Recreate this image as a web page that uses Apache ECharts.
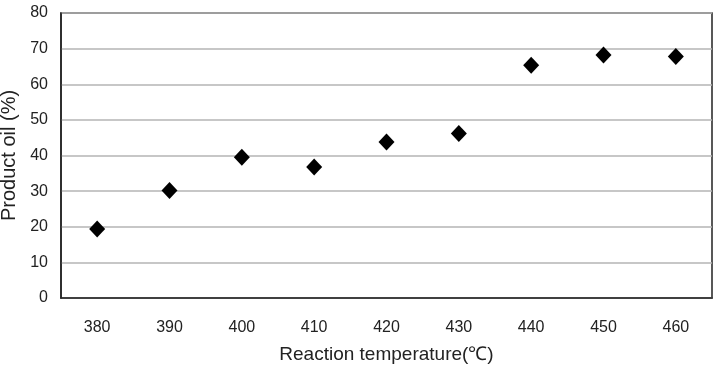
<!DOCTYPE html>
<html>
<head>
<meta charset="utf-8">
<script src="https://cdn.jsdelivr.net/npm/echarts@6/dist/echarts.min.js"></script>
<style>
  html, body { margin: 0; padding: 0; background: #fff; }
  #chart { width: 720px; height: 366px; }
</style>
</head>
<body>
<div id="chart"></div>
<script>
// reaction temperature (°C) categories
const temps = ['380', '390', '400', '410', '420', '430', '440', '450', '460'];
// product oil yield (%)
const productOil = [19.4, 30.2, 39.5, 36.8, 43.8, 46.2, 65.3, 68.2, 67.8];
const yTicks = { min: 0, max: 80, step: 10 };

const chart = echarts.init(document.getElementById('chart'));
const font = 'Liberation Sans, Arial, sans-serif';

chart.setOption({
  animation: false,
  backgroundColor: '#fff',
  grid: {
    left: 61, right: 8, top: 13, bottom: 68,
    outerBoundsMode: 'none', containLabel: false,
    show: true, borderColor: '#222', borderWidth: 1.5
  },
  xAxis: {
    type: 'category',
    data: temps,
    boundaryGap: true,
    name: 'Reaction temperature(℃)',
    nameLocation: 'middle',
    nameGap: 47,
    nameTextStyle: { fontFamily: font, fontSize: 19, color: '#222' },
    axisLine: { lineStyle: { color: '#222', width: 1.5 } },
    axisTick: { inside: true, length: 5, lineStyle: { color: '#333' } },
    axisLabel: { fontFamily: font, fontSize: 16, color: '#222', margin: 22 },
    splitLine: { show: false }
  },
  yAxis: {
    type: 'value',
    min: yTicks.min,
    max: yTicks.max,
    interval: yTicks.step,
    name: 'Product oil (%)',
    nameLocation: 'middle',
    nameGap: 40,
    nameTextStyle: { fontFamily: font, fontSize: 20, color: '#222' },
    axisLine: { show: true, lineStyle: { color: '#222', width: 1.5 } },
    axisTick: { show: false },
    axisLabel: { fontFamily: font, fontSize: 16, color: '#222', margin: 13 },
    splitLine: { lineStyle: { color: '#b4b4b4', width: 1.5 } }
  },
  series: [{
    type: 'scatter',
    data: productOil,
    symbol: 'diamond',
    symbolSize: [16, 17],
    itemStyle: { color: '#000', opacity: 1 },
    emphasis: { disabled: true }
  }]
});
</script>
</body>
</html>
